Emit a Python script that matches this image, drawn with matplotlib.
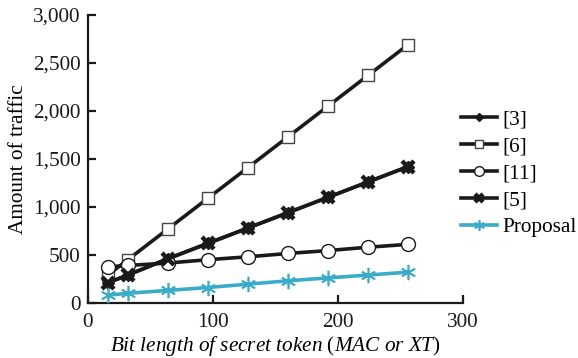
import matplotlib
matplotlib.use("Agg")
import matplotlib.pyplot as plt
from matplotlib.ticker import FuncFormatter

bits = [16, 32, 64, 96, 128, 160, 192, 224, 256]
ref3 = [210, 290, 460, 620, 780, 940, 1100, 1260, 1420]
ref6 = [290, 450, 770, 1090, 1410, 1730, 2050, 2370, 2690]
ref11 = [375, 390, 415, 450, 480, 515, 545, 580, 610]
ref5 = [210, 290, 460, 620, 780, 940, 1100, 1260, 1420]
proposal = [80, 100, 130, 160, 195, 230, 260, 290, 320]

plt.rcParams['font.family'] = ['Liberation Serif', 'DejaVu Serif']
plt.rcParams['mathtext.fontset'] = 'custom'
plt.rcParams['mathtext.rm'] = 'Liberation Serif'
plt.rcParams['mathtext.it'] = 'Liberation Serif:italic'

fs = 15.3
fig = plt.figure(figsize=(5.78, 3.58), dpi=100)
ax = fig.add_axes([0.152, 0.154, 0.649, 0.804])

lw = 2.6
ax.plot(bits, ref3, color='#1a1a1a', lw=lw, marker='D', ms=6, mfc='#1a1a1a', mec='#1a1a1a', label='[3]', zorder=2)
ax.plot(bits, ref6, color='#1a1a1a', lw=lw, marker='s', ms=8.5, mfc='white', mec='#444444', mew=1.0, label='[6]', zorder=3)
ax.plot(bits, ref11, color='#1a1a1a', lw=lw, marker='o', ms=10, mfc='white', mec='#1a1a1a', mew=1.0, label='[11]', zorder=3)
ax.plot(bits, ref5, color='#1a1a1a', lw=lw, marker='x', ms=9, mew=3.2, mec='#1a1a1a', label='[5]', zorder=4)
ax.plot(bits, proposal, color='#3aacc9', lw=lw, marker=(6, 2, 0), ms=11, mew=1.2, mec='#3aacc9', label='Proposal', zorder=4)

ax.set_xlim(0, 300)
ax.set_ylim(0, 3000)
ax.set_xticks([0, 100, 200, 300])
ax.set_yticks(range(0, 3001, 500))
ax.yaxis.set_major_formatter(FuncFormatter(lambda v, p: f"{int(v):,}"))
ax.spines['top'].set_visible(False)
ax.spines['right'].set_visible(False)
for s in ('left', 'bottom'):
    ax.spines[s].set_linewidth(1.6)
    ax.spines[s].set_color('#1a1a1a')
ax.tick_params(direction='in', length=6, width=1.6, labelsize=fs, colors='#1a1a1a')
ax.tick_params(axis='y', pad=5)
ax.tick_params(axis='x', pad=7)

ax.set_ylabel('Amount of traffic', fontsize=fs, labelpad=4)
ax.set_xlabel(r'$\it{Bit\ length\ of\ secret\ token}$ ($\it{MAC\ or\ XT}$)', fontsize=fs, labelpad=2)

ax.legend(loc='center left', bbox_to_anchor=(0.995, 0.45), frameon=False, fontsize=fs,
          handlelength=1.7, handletextpad=0.25, labelspacing=0.33, borderaxespad=0.0,
          borderpad=0.0, markerscale=0.7)

fig.savefig('out.png', dpi=100)
